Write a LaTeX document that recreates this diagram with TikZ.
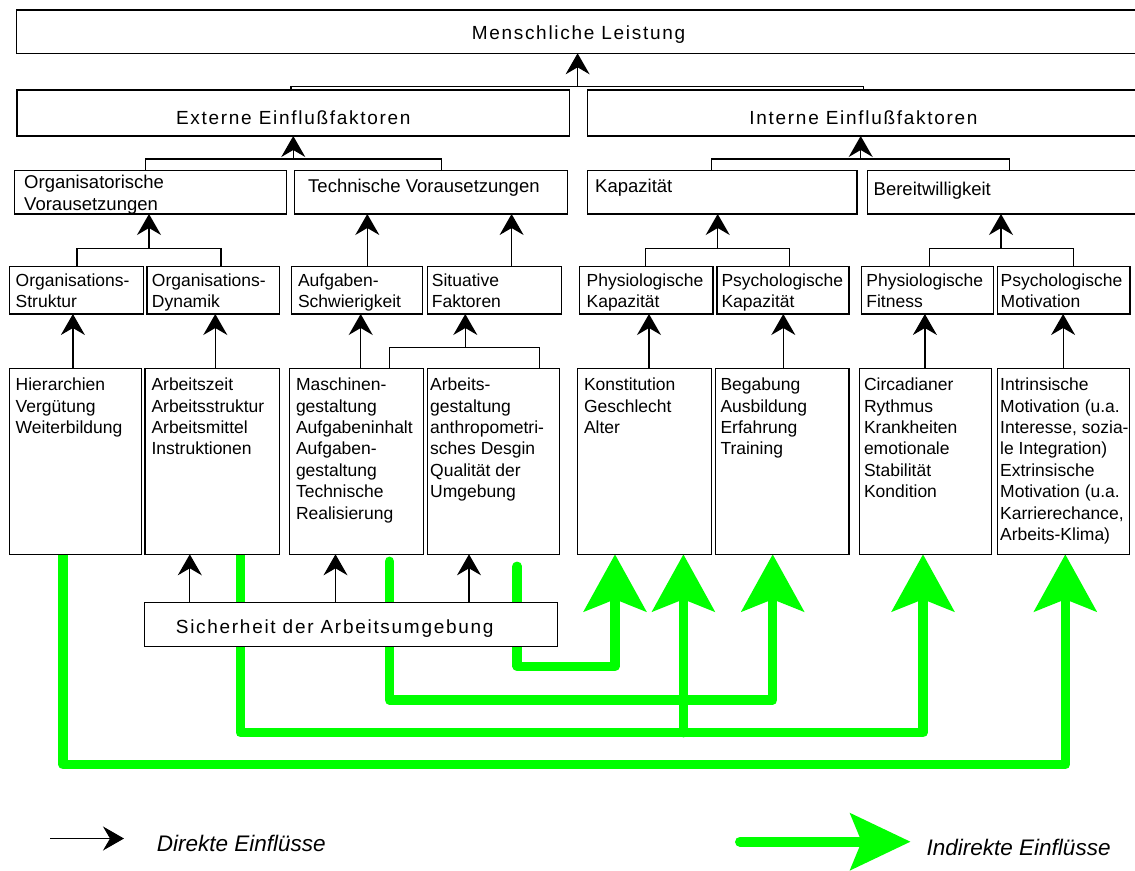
\documentclass[tikz,border=0pt]{standalone}
\usepackage{fontspec}
\setmainfont{Liberation Sans}
\newfontfamily\sperrfont[LetterSpace=9]{Liberation Sans}
\usepackage{xcolor}
\usepackage{tikz}
\usetikzlibrary{positioning,arrows.meta}
\pgfdeclarelayer{background}
\pgfsetlayers{background,main}
\definecolor{indgreen}{RGB}{0,255,0}

\begin{document}
\begin{tikzpicture}[
    x=1pt, y=-1pt,
    box/.style={rectangle, draw, line width=1.2pt, fill=white,
                inner sep=0pt, outer sep=0pt, anchor=north west},
    titel/.style={inner sep=0pt, anchor=base,
                  font=\sperrfont\fontsize{19pt}{23pt}\selectfont},
    ebene/.style={inner sep=0pt, align=left,
                  font=\fontsize{18.5pt}{22.3pt}\selectfont},
    zelle/.style={inner sep=0pt, align=left, anchor=north west,
                  font=\fontsize{17.5pt}{21.4pt}\selectfont},
    legende/.style={inner sep=0pt, anchor=base west,
                    font=\itshape\fontsize{22.5pt}{26pt}\selectfont},
    tree/.style={line width=1.2pt},
    dir/.style={line width=1.2pt, -{Stealth[length=21pt,width=24pt,inset=7pt]}},
    ind/.style={draw=indgreen, line width=9.5pt, line cap=round, line join=round,
                -{Stealth[length=57pt,width=62pt,inset=12pt]}},
]
\useasboundingbox (0,0) rectangle (1135,870);
\begin{pgfonlayer}{background}
  \fill[white] (0,0) rectangle (1135,870);
\end{pgfonlayer}

% Ebene 0 und 1
\node[box, minimum width=1123.4pt, minimum height=43.3pt] (mensch) at (16.6,10) {};
\node[titel] (menscht) at (578.5,39.3) {Menschliche Leistung};

\node[box, minimum width=552.5pt, minimum height=46pt] (extern) at (17,90) {};
\node[titel] (externt) at (293.3,124) {Externe Einflußfaktoren};
\node[box, minimum width=552.6pt, minimum height=46pt] (intern) at (587.4,90) {};
\node[titel] (internt) at (863.5,124) {Interne Einflußfaktoren};

% Ebene 2
\node[box, minimum width=271.9pt, minimum height=43.3pt] (orgv) at (14.8,170.7) {};
\node[ebene, anchor=north west] (orgvt) at (24,175) {Organisatorische\\Vorausetzungen};
\node[box, minimum width=272.5pt, minimum height=43.3pt] (techv) at (294.8,170.7) {};
\node[ebene, anchor=base west] (techvt) at (308,192.7) {Technische Vorausetzungen};
\node[box, minimum width=269.6pt, minimum height=43.3pt] (kap) at (587.4,170.7) {};
\node[ebene, anchor=base west] (kapt) at (595,192.3) {Kapazität};
\node[box, minimum width=272.7pt, minimum height=43.3pt] (bereit) at (867.3,170.7) {};
\node[ebene, anchor=base west] (bereitt) at (873.5,195.5) {Bereitwilligkeit};

% Ebene 3
\node[box, minimum width=134pt, minimum height=47.3pt] (ostr) at (9.2,266.7) {};
\node[zelle] (ostrt) at (15.5,273.4) {Organisations-\\Struktur};
\node[box, minimum width=132.4pt, minimum height=47.3pt] (odyn) at (146.9,266.7) {};
\node[zelle] (odynt) at (151.7,273.4) {Organisations-\\Dynamik};
\node[box, minimum width=131.7pt, minimum height=47.3pt] (aufg) at (291.1,266.7) {};
\node[zelle] (aufgt) at (297.8,273.4) {Aufgaben-\\Schwierigkeit};
\node[box, minimum width=134.1pt, minimum height=47.3pt] (situ) at (427.2,266.7) {};
\node[zelle] (situt) at (431.7,273.4) {Situative\\Faktoren};
\node[box, minimum width=133.8pt, minimum height=47.3pt] (physk) at (579.1,266.7) {};
\node[zelle] (physkt) at (586.4,273.4) {Physiologische\\Kapazität};
\node[box, minimum width=132pt, minimum height=47.3pt] (psychk) at (717,266.7) {};
\node[zelle] (psychkt) at (721.3,273.4) {Psychologische\\Kapazität};
\node[box, minimum width=132pt, minimum height=47.3pt] (physf) at (861.4,266.7) {};
\node[zelle] (physft) at (866.2,273.4) {Physiologische\\Fitness};
\node[box, minimum width=132.5pt, minimum height=47.3pt] (psychm) at (997.5,266.7) {};
\node[zelle] (psychmt) at (1000.5,273.4) {Psychologische\\Motivation};

% Einflussgroessen
\node[box, minimum width=132.1pt, minimum height=186pt] (hier) at (9.2,368.3) {};
\node[zelle] (hiert) at (15.5,377.9) {Hierarchien\\Vergütung\\Weiterbildung};
\node[box, minimum width=134.3pt, minimum height=186pt] (arbz) at (145,368.3) {};
\node[zelle] (arbzt) at (151.3,377.9) {Arbeitszeit\\Arbeitsstruktur\\Arbeitsmittel\\Instruktionen};
\node[box, minimum width=134pt, minimum height=186pt] (masch) at (289.3,368.3) {};
\node[zelle] (mascht) at (295.8,377.9) {Maschinen-\\gestaltung\\Aufgabeninhalt\\Aufgaben-\\gestaltung\\Technische\\Realisierung};
\node[box, minimum width=132pt, minimum height=186pt] (arbg) at (427.3,368.3) {};
\node[zelle] (arbgt) at (430,377.9) {Arbeits-\\gestaltung\\anthropometri-\\sches Desgin\\Qualität der\\Umgebung};
\node[box, minimum width=134.2pt, minimum height=186pt] (konst) at (577.3,368.3) {};
\node[zelle] (konstt) at (583.8,377.9) {Konstitution\\Geschlecht\\Alter};
\node[box, minimum width=133.2pt, minimum height=186pt] (begab) at (715.8,368.3) {};
\node[zelle] (begabt) at (720.3,377.9) {Begabung\\Ausbildung\\Erfahrung\\Training};
\node[box, minimum width=132pt, minimum height=186pt] (circ) at (859.6,368.3) {};
\node[zelle] (circt) at (863.8,377.9) {Circadianer\\Rythmus\\Krankheiten\\emotionale\\Stabilität\\Kondition};
\node[box, minimum width=132pt, minimum height=186pt] (intr) at (997.5,368.3) {};
\node[zelle] (intrt) at (1000,377.9) {Intrinsische\\Motivation (u.a.\\Interesse, sozia-\\le Integration)\\Extrinsische\\Motivation (u.a.\\Karrierechance,\\Arbeits-Klima)};

\node[box, minimum width=413.4pt, minimum height=44.4pt] (sicher) at (144.3,602.3) {};
\node[titel, anchor=base west] (sichert) at (175.7,633.3) {Sicherheit der Arbeitsumgebung};

% direkte Einfluesse
\coordinate (j0) at (577.6,86.6);
\draw[tree] ([xshift=-2.2pt]extern.north) |- (j0) -| (intern.north);
\draw[dir] (j0) -- (j0 |- mensch.south);

\coordinate (j1) at (293.25,159);
\draw[tree] ([xshift=-5.35pt]orgv.north) |- (j1) -| ([xshift=10.25pt]techv.north);
\draw[dir] (j1) -- (j1 |- extern.south);
\coordinate (j2) at (860.7,159);
\draw[tree] ([xshift=-10.8pt]kap.north) |- (j2) -| ([xshift=5.55pt]bereit.north);
\draw[dir] (j2) -- (j2 |- intern.south);

\coordinate (j3) at (149,248.3);
\draw[tree] ([xshift=0.8pt]ostr.north) |- (j3) -| ([xshift=7.9pt]odyn.north);
\draw[dir] (j3) -- (j3 |- orgv.south);
\draw[dir] ([xshift=10.35pt]aufg.north) -- ([xshift=10.35pt]aufg.north |- techv.south);
\draw[dir] ([xshift=17.35pt]situ.north) -- ([xshift=17.35pt]situ.north |- techv.south);
\coordinate (j4) at (717.7,248.3);
\draw[tree] ([xshift=-0.6pt]physk.north) |- (j4) -| ([xshift=6.2pt]psychk.north);
\draw[dir] (j4) -- (j4 |- kap.south);
\coordinate (j5) at (1001,248.3);
\draw[tree] ([xshift=1.9pt]physf.north) |- (j5) -| ([xshift=9.65pt]psychm.north);
\draw[dir] (j5) -- (j5 |- bereit.south);

\draw[dir] ([xshift=-2.35pt]hier.north) -- ([xshift=-2.35pt]hier.north |- ostr.south);
\draw[dir] ([xshift=3.15pt]arbz.north) -- ([xshift=3.15pt]arbz.north |- odyn.south);
\draw[dir] ([xshift=4.4pt]masch.north) -- ([xshift=4.4pt]masch.north |- aufg.south);
\coordinate (j6) at (465.3,347.7);
\draw[tree] ([xshift=32.8pt]masch.north) |- (j6) -| ([xshift=46pt]arbg.north);
\draw[dir] (j6) -- (j6 |- situ.south);
\draw[dir] ([xshift=4.6pt]konst.north) -- ([xshift=4.6pt]konst.north |- physk.south);
\draw[dir] ([xshift=0.9pt]begab.north) -- ([xshift=0.9pt]begab.north |- psychk.south);
\draw[dir] ([xshift=-0.7pt]circ.north) -- ([xshift=-0.7pt]circ.north |- physf.south);
\draw[dir] ([xshift=-0.4pt]intr.north) -- ([xshift=-0.4pt]intr.north |- psychm.south);

\draw[dir] ([xshift=-22.35pt]arbz.south |- sicher.north) -- ([xshift=-22.35pt]arbz.south);
\draw[dir] ([xshift=-20.8pt]masch.south |- sicher.north) -- ([xshift=-20.8pt]masch.south);
\draw[dir] ([xshift=-24.3pt]arbg.south |- sicher.north) -- ([xshift=-24.3pt]arbg.south);

% indirekte Einfluesse
\begin{pgfonlayer}{background}
  \draw[ind] ([xshift=-12.35pt]hier.south) -- ++(0,210.2) -| ([xshift=1.8pt]intr.south);
  \draw[ind] ([xshift=28.25pt]arbz.south) -- ++(0,178.4) -| ([xshift=-2.6pt]circ.south);
  \coordinate (g2b) at (683.4,732.7);
  \draw[ind] (g2b) -- ([xshift=39pt]konst.south);
  \draw[ind] ([xshift=33.2pt,yshift=-7pt]masch.south) -- ++(0,138.7) -| ([xshift=-9.7pt]begab.south);
  \draw[ind] ([xshift=23.9pt,yshift=-12pt]arbg.south) -- ++(0,100) -| ([xshift=-29.4pt]konst.south);
\end{pgfonlayer}

% Legende
\coordinate (lgA) at (50,838.5);
\coordinate (lgB) at (124,838.5);
\draw[dir] (lgA) -- (lgB);
\node[legende] (lgdir) at (156.7,851) {Direkte Einflüsse};
\coordinate (lgC) at (740,841.7);
\coordinate (lgD) at (910.6,841.7);
\draw[ind, line width=10pt, -{Stealth[length=60pt,width=56pt,inset=11pt]}] (lgC) -- (lgD);
\node[legende] (lgind) at (926.5,855.5) {Indirekte Einflüsse};
\end{tikzpicture}
\end{document}
